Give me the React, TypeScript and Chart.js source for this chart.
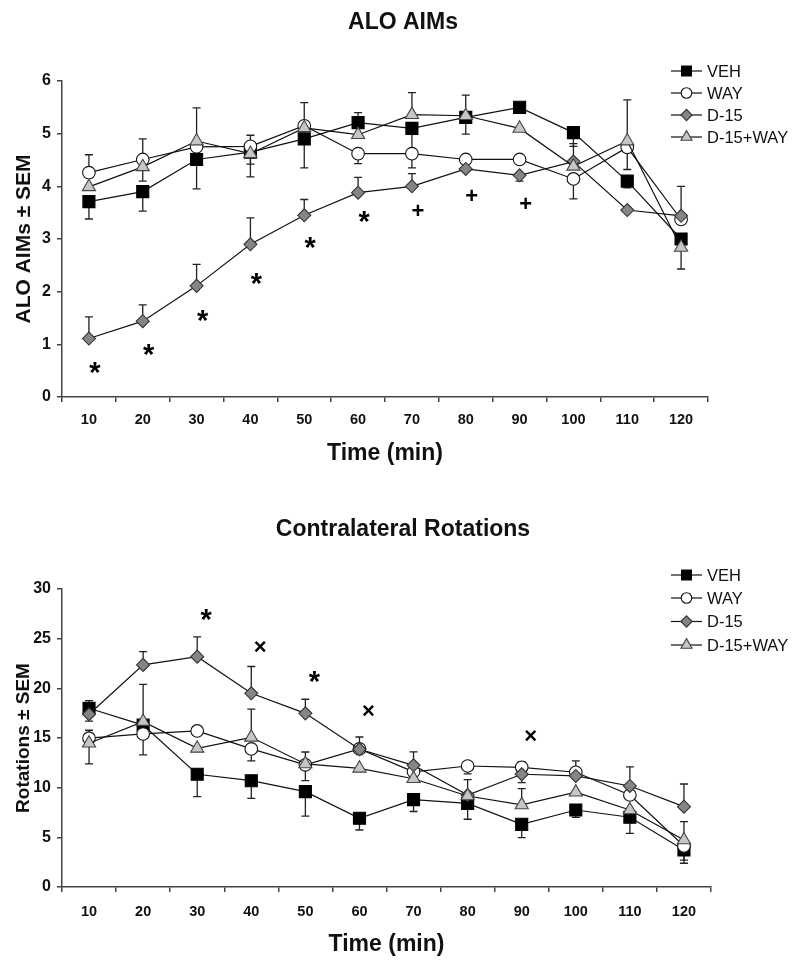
import React, { useEffect, useRef } from 'react';
import { Chart, registerables } from 'chart.js';
import { drawPoint } from 'chart.js/helpers';

Chart.register(...registerables);

// ---------- data ----------
const TIME_LABELS = ['10', '20', '30', '40', '50', '60', '70', '80', '90', '100', '110', '120'];
const SERIES_NAMES = ['VEH', 'WAY', 'D-15', 'D-15+WAY'];

// ALO AIMs (SEM: positive = upper bar shown, negative = lower bar shown, null = none visible)
const AIMS_VEH = [3.71, 3.9, 4.51, 4.65, 4.9, 5.21, 5.1, 5.31, 5.5, 5.02, 4.1, 3.0];
const AIMS_VEH_SEM = [-0.33, -0.37, -0.56, -0.23, -0.55, 0.19, -0.5, -0.32, null, -0.26, -0.13, null];
const AIMS_WAY = [4.26, 4.51, 4.75, 4.76, 5.15, 4.62, 4.62, 4.51, 4.51, 4.14, 4.74, 3.37];
const AIMS_WAY_SEM = [0.34, 0.39, null, 0.21, null, -0.19, -0.27, null, null, -0.38, -0.42, null];
const AIMS_D15 = [1.11, 1.44, 2.11, 2.9, 3.45, 3.88, 4.0, 4.33, 4.21, 4.47, 3.55, 3.44];
const AIMS_D15_SEM = [0.41, 0.31, 0.41, 0.5, 0.3, 0.29, 0.24, null, -0.11, 0.34, null, 0.56];
const AIMS_D15WAY = [3.99, 4.37, 4.86, 4.62, 5.11, 4.98, 5.36, 5.34, 5.1, 4.38, 4.86, 2.84];
const AIMS_D15WAY_SEM = [null, -0.27, 0.63, -0.44, 0.48, null, 0.42, 0.39, null, null, 0.78, -0.41];
const AIMS_TICKS = { min: 0, max: 6, step: 1 };
const AIMS_SIG_INDEX = [0, 1, 2, 3, 4, 5, 6, 7, 8];
const AIMS_SIG_Y = [0.55, 0.89, 1.54, 2.25, 2.93, 3.42, 3.55, 3.83, 3.69];
const AIMS_SIG_MARK = ['*', '*', '*', '*', '*', '*', '+', '+', '+'];

// Contralateral rotations
const ROT_VEH = [18.0, 16.3, 11.35, 10.7, 9.6, 6.92, 8.8, 8.42, 6.31, 7.75, 7.02, 3.73];
const ROT_VEH_SEM = [0.76, null, -2.25, -1.77, -2.46, -1.18, -1.2, -1.6, -1.34, -0.75, -1.62, -1.34];
const ROT_WAY = [14.98, 15.41, 15.71, 13.9, 12.3, 13.9, 11.6, 12.18, 12.05, 11.55, 9.26, 4.13];
const ROT_WAY_SEM = [0.8, -2.1, null, -1.2, -1.6, null, null, -0.8, 0.55, 1.15, null, -1.43];
const ROT_D15 = [17.39, 22.36, 23.19, 19.5, 17.48, 13.86, 12.25, 9.26, 11.35, 11.18, 10.17, 8.09];
const ROT_D15_SEM = [-0.7, 1.34, 2.0, 2.7, 1.42, 1.24, 1.36, null, -0.85, null, 1.93, 2.28];
const ROT_D15WAY = [14.47, 16.65, 13.96, 15.07, 12.39, 11.95, 10.9, 9.16, 8.26, 9.54, 7.75, 4.73];
const ROT_D15WAY_SEM = [-2.08, 3.75, null, 2.83, 1.2, null, null, 1.64, 1.64, null, null, 1.85];
const ROT_TICKS = { min: 0, max: 30, step: 5 };
const ROT_SIG_INDEX = [2, 3, 4, 5, 8];
const ROT_SIG_Y = [27.4, 24.2, 21.1, 17.7, 15.2];
const ROT_SIG_MARK = ['*', '×', '*', '×', '×'];

// ---------- styles ----------
const BASE_FONT = "'Liberation Sans', Arial, sans-serif";
const AXIS_COLOR = '#444';
const TEXT_COLOR = '#111';

const STYLES = [
  { pointStyle: 'rect', r: 8.5, lr: 7, fill: '#000000', stroke: '#000000', order: 4 },
  { pointStyle: 'circle', r: 6.3, lr: 5.3, fill: '#ffffff', stroke: '#111111', order: 3 },
  { pointStyle: 'rectRot', r: 6.5, lr: 5.6, fill: '#858585', stroke: '#333333', order: 2 },
  { pointStyle: 'triangle', r: 7.6, lr: 6.4, fill: '#c6c6c6', stroke: '#444444', order: 1 },
];

Chart.defaults.font.family = BASE_FONT;

function makeSeries(values: number[][], sems: (number | null)[][]) {
  return values.map((data, i) => ({
    label: SERIES_NAMES[i],
    data,
    sem: sems[i],
    borderColor: '#111',
    borderWidth: 1.2,
    pointStyle: STYLES[i].pointStyle,
    pointRadius: STYLES[i].r,
    pointHoverRadius: STYLES[i].r,
    pointBackgroundColor: STYLES[i].fill,
    pointBorderColor: STYLES[i].stroke,
    pointBorderWidth: 1.1,
    fill: false,
    tension: 0,
    order: STYLES[i].order,
    clip: false,
  }));
}

function makeDecor(cfg: any) {
  return {
    id: 'decor',
    beforeDatasetsDraw(chart: any) {
      const ctx = chart.ctx;
      const ys = chart.scales.y;
      ctx.save();
      ctx.strokeStyle = '#222';
      ctx.lineWidth = 1.3;
      chart.data.datasets.forEach((ds: any, i: number) => {
        const meta = chart.getDatasetMeta(i);
        ds.sem.forEach((s: number | null, j: number) => {
          if (s == null) return;
          const x = meta.data[j].x;
          const y0 = ys.getPixelForValue(ds.data[j]);
          const y1 = ys.getPixelForValue(ds.data[j] + s);
          ctx.beginPath();
          ctx.moveTo(x, y0);
          ctx.lineTo(x, y1);
          ctx.moveTo(x - 4, y1);
          ctx.lineTo(x + 4, y1);
          ctx.stroke();
        });
      });
      ctx.restore();
    },
    afterDatasetsDraw(chart: any) {
      const ctx = chart.ctx;
      const xs = chart.scales.x;
      const ys = chart.scales.y;
      ctx.save();
      ctx.fillStyle = '#000';
      ctx.textAlign = 'center';
      ctx.textBaseline = 'alphabetic';
      cfg.sigIndex.forEach((idx: number, k: number) => {
        const mark = cfg.sigMark[k];
        const size = mark === '*' ? 29 : 22;
        ctx.font = `bold ${size}px ${BASE_FONT}`;
        const m = ctx.measureText(mark);
        const x = xs.getPixelForValue(idx) + cfg.sigDx;
        const y = ys.getPixelForValue(cfg.sigY[k]);
        const yy = y + (m.actualBoundingBoxAscent - m.actualBoundingBoxDescent) / 2;
        ctx.fillText(mark, x, yy);
      });
      ctx.restore();
    },
    afterDraw(chart: any) {
      const ctx = chart.ctx;
      ctx.save();
      // title
      ctx.fillStyle = TEXT_COLOR;
      ctx.font = `bold 23px ${BASE_FONT}`;
      ctx.textAlign = 'center';
      ctx.textBaseline = 'middle';
      ctx.fillText(cfg.title, cfg.titleX, cfg.titleY);
      // legend
      SERIES_NAMES.forEach((name, i) => {
        const y = cfg.legendY[i];
        ctx.strokeStyle = '#111';
        ctx.lineWidth = 1.2;
        ctx.beginPath();
        ctx.moveTo(cfg.legendX0, y);
        ctx.lineTo(cfg.legendX1, y);
        ctx.stroke();
        ctx.fillStyle = STYLES[i].fill;
        ctx.strokeStyle = STYLES[i].stroke;
        ctx.lineWidth = 1.1;
        drawPoint(ctx, { pointStyle: STYLES[i].pointStyle, radius: STYLES[i].lr, rotation: 0, borderWidth: 1.1 } as any, (cfg.legendX0 + cfg.legendX1) / 2, y);
        ctx.fillStyle = TEXT_COLOR;
        ctx.font = `16.5px ${BASE_FONT}`;
        ctx.textAlign = 'left';
        ctx.textBaseline = 'middle';
        ctx.fillText(name, cfg.legendText, y + 1);
      });
      ctx.restore();
    },
  };
}

function makeConfig(p: any) {
  return {
    type: 'line',
    data: { labels: TIME_LABELS, datasets: makeSeries(p.values, p.sems) },
    options: {
      animation: false,
      responsive: true,
      maintainAspectRatio: false,
      events: [],
      layout: { padding: { top: p.padTop, right: p.padRight, bottom: 0, left: 0 } },
      plugins: { legend: { display: false }, title: { display: false }, tooltip: { enabled: false } },
      scales: {
        x: {
          type: 'category',
          offset: true,
          afterFit: (s: any) => { s.height = p.xHeight; },
          grid: { display: true, offset: true, drawOnChartArea: false, drawTicks: true, tickLength: 5, color: AXIS_COLOR, lineWidth: 1.5 },
          border: { display: true, color: AXIS_COLOR, width: 1.5 },
          ticks: { autoSkip: false, maxRotation: 0, padding: p.xTickPad, color: TEXT_COLOR, font: { family: BASE_FONT, size: 14.5, weight: 'bold', lineHeight: 1 } },
          title: { display: true, text: 'Time (min)', color: TEXT_COLOR, padding: { top: 0, bottom: p.xTitlePad }, font: { family: BASE_FONT, size: 23, weight: 'bold', lineHeight: 1 } },
        },
        y: {
          type: 'linear',
          min: p.ticks.min,
          max: p.ticks.max,
          afterFit: (s: any) => { s.width = 62; },
          grid: { display: true, drawOnChartArea: false, drawTicks: true, tickLength: 5, color: AXIS_COLOR, lineWidth: 1.5 },
          border: { display: true, color: AXIS_COLOR, width: 1.5 },
          ticks: { stepSize: p.ticks.step, padding: 6, color: TEXT_COLOR, font: { family: BASE_FONT, size: 16, weight: 'bold', lineHeight: 1 } },
          title: { display: true, text: p.yTitle, color: TEXT_COLOR, padding: { top: 24 - p.yTitleSize / 2, bottom: 0 }, font: { family: BASE_FONT, size: p.yTitleSize, weight: 'bold', lineHeight: 1 } },
        },
      },
    },
    plugins: [makeDecor(p.decor)],
  };
}

const TOP_CONFIG = () => makeConfig({
  values: [AIMS_VEH, AIMS_WAY, AIMS_D15, AIMS_D15WAY],
  sems: [AIMS_VEH_SEM, AIMS_WAY_SEM, AIMS_D15_SEM, AIMS_D15WAY_SEM],
  ticks: AIMS_TICKS,
  padTop: 81, padRight: 92, xHeight: 85, xTickPad: 11, xTitlePad: 17,
  yTitle: 'ALO AIMs ± SEM', yTitleSize: 21,
  decor: {
    title: 'ALO AIMs', titleX: 403, titleY: 23,
    legendY: [71, 93, 115, 137], legendX0: 671, legendX1: 702, legendText: 707,
    sigIndex: AIMS_SIG_INDEX, sigY: AIMS_SIG_Y, sigMark: AIMS_SIG_MARK, sigDx: 6,
  },
});

const BOTTOM_CONFIG = () => makeConfig({
  values: [ROT_VEH, ROT_WAY, ROT_D15, ROT_D15WAY],
  sems: [ROT_VEH_SEM, ROT_WAY_SEM, ROT_D15_SEM, ROT_D15WAY_SEM],
  ticks: ROT_TICKS,
  padTop: 107, padRight: 89, xHeight: 77, xTickPad: 13, xTitlePad: 8,
  yTitle: 'Rotations ± SEM', yTitleSize: 19,
  decor: {
    title: 'Contralateral Rotations', titleX: 403, titleY: 48,
    legendY: [93, 116, 139.5, 163], legendX0: 671, legendX1: 702, legendText: 707,
    sigIndex: ROT_SIG_INDEX, sigY: ROT_SIG_Y, sigMark: ROT_SIG_MARK, sigDx: 9,
  },
});

function Panel({ makeCfg, top }: { makeCfg: () => any; top: number }) {
  const ref = useRef<HTMLCanvasElement | null>(null);
  useEffect(() => {
    if (!ref.current) return;
    const chart = new Chart(ref.current, makeCfg() as any);
    return () => chart.destroy();
  }, []);
  return (
    <div style={{ position: 'absolute', left: 0, top, width: 800, height: 482 }}>
      <canvas ref={ref} />
    </div>
  );
}

export default function App() {
  return (
    <div style={{ position: 'absolute', left: 0, top: 0, width: 800, height: 964, background: '#fff' }}>
      <Panel makeCfg={TOP_CONFIG} top={0} />
      <Panel makeCfg={BOTTOM_CONFIG} top={482} />
    </div>
  );
}
